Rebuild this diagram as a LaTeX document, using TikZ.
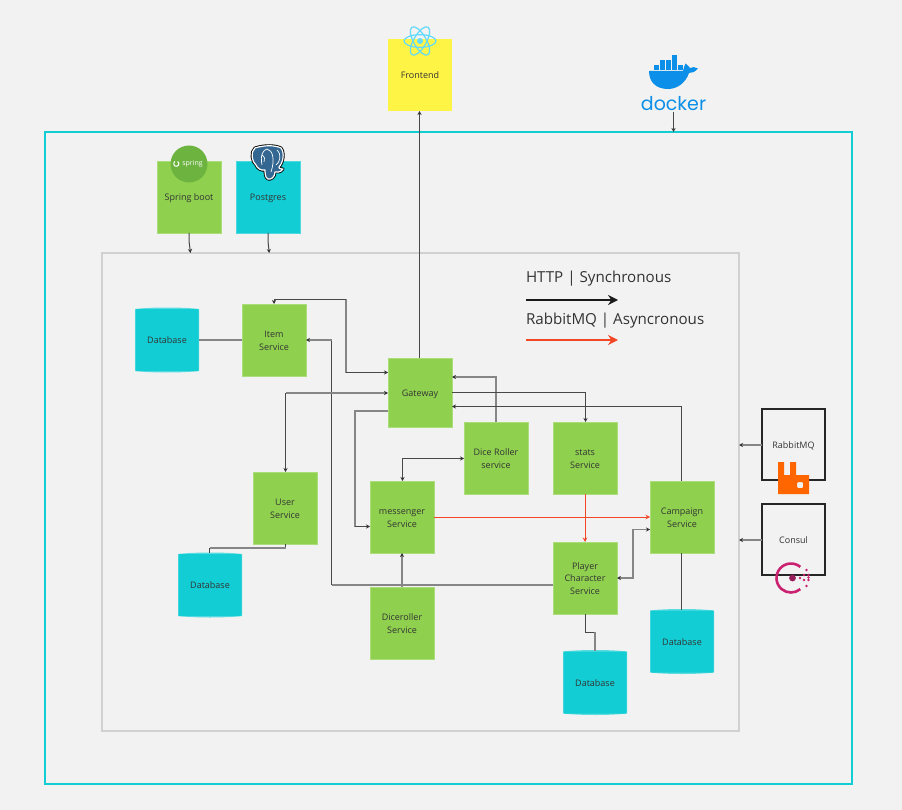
\documentclass[tikz,border=0pt]{standalone}
\usepackage{fontspec}
\setmainfont{Open Sans}
\newfontfamily\dockerfont{Poppins}
\usetikzlibrary{arrows.meta}
\definecolor{bg}{HTML}{F2F2F2}
\definecolor{mgreen}{HTML}{8FD14F}
\definecolor{mcyan}{HTML}{12CDD4}
\definecolor{myellow}{HTML}{FEF445}
\definecolor{ink}{HTML}{333333}
\definecolor{wire}{HTML}{484848}
\definecolor{wiregrey}{HTML}{868686}
\definecolor{mred}{HTML}{F24726}
\definecolor{dockblue}{HTML}{0B8FE8}
\definecolor{pgblue}{HTML}{336791}
\definecolor{rabbit}{HTML}{FF6600}
\definecolor{consul}{HTML}{CA2171}
\definecolor{consuld}{HTML}{961D59}
\definecolor{reactc}{HTML}{61DAFB}
\definecolor{springc}{HTML}{6DB33F}
\tikzset{
  every node/.style={inner sep=0pt,outer sep=0pt,text=ink,font=\fontsize{9}{12.3}\selectfont},
  boxbase/.style={rectangle,minimum width=64pt,minimum height=72pt},
  svcbox/.style={boxbase,fill=mgreen,draw=mgreen!75!white,line width=.5pt},
  stickbox/.style={boxbase,fill=mcyan,draw=mcyan!75!white,line width=.5pt},
  notebox/.style={boxbase,fill=myellow},
  toolbox/.style={rectangle,minimum width=63pt,minimum height=71pt,draw=black!85,line width=1.4pt},
  dbbox/.style={rectangle,minimum width=64pt,minimum height=64pt},
  wireline/.style={draw=wire,line width=1pt},
  wireb/.style={draw=wiregrey,line width=1.9pt},
  oneway/.style={-{Stealth[length=4pt,width=4pt,color=black!80]}},
  tailway/.style={{Stealth[length=4pt,width=4pt,color=black!80]}-},
  bothway/.style={{Stealth[length=4pt,width=4pt,color=black!80]}-{Stealth[length=4pt,width=4pt,color=black!80]}},
  redline/.style={draw=mred,line width=1pt,-{Stealth[length=4.5pt,width=4.5pt]}},
}
\newcommand{\tx}[1]{\raisebox{-1.5pt}[\height][\depth]{\begin{tabular}{@{}c@{}}#1\end{tabular}}}
\newcommand{\dbshape}[2]{%
  \fill[mcyan!70!white] (#1-32,#2-31) .. controls (#1-15,#2-33) and (#1+15,#2-33) .. (#1+32,#2-31)
    -- (#1+32,#2+31) .. controls (#1+15,#2+33) and (#1-15,#2+33) .. (#1-32,#2+31) -- cycle;
  \fill[mcyan,rounded corners=1pt] (#1-31.5,#2-31) rectangle (#1+31.5,#2+31);}
\begin{document}
\begin{tikzpicture}[x=1pt,y=-1pt]
\useasboundingbox (0,0) rectangle (902,810);
\fill[bg] (0,0) rectangle (902,810);
% frames
\node[rectangle,draw=mcyan,line width=2pt,minimum width=807pt,minimum height=652pt] (outer) at (448.5,458) {};
\node[rectangle,draw=black!18,line width=1.4pt,minimum width=637pt,minimum height=478pt] (inner) at (420.5,492) {};
% boxes
\node[notebox] (front) at (420,75) {\tx{Frontend}};
\node[svcbox] (spring) at (189,197) {\tx{Spring boot}};
\node[stickbox] (pg) at (268,197) {\tx{Postgres}};
\node[svcbox] (item) at (274,340) {\tx{Item\\Service}};
\node[svcbox,minimum height=69pt] (gw) at (420,392.5) {\tx{Gateway}};
\node[svcbox] (user) at (285,508) {\tx{User\\Service}};
\node[svcbox] (msg) at (402,517) {\tx{messenger\\Service}};
\node[svcbox] (dice) at (496,458) {\tx{Dice Roller\\service}};
\node[svcbox] (stats) at (585,458) {\tx{stats\\Service}};
\node[svcbox] (camp) at (682,517) {\tx{Campaign\\Service}};
\node[svcbox] (player) at (585,578) {\tx{Player\\Character\\Service}};
\node[svcbox] (roller) at (402,623) {\tx{Diceroller\\Service}};
\dbshape{167}{340}\node[dbbox] (dbitem) at (167,340) {\tx{Database}};
\dbshape{210}{585}\node[dbbox] (dbuser) at (210,585) {\tx{Database}};
\dbshape{595}{682.5}\node[dbbox] (dbplayer) at (595,682.5) {\tx{Database}};
\dbshape{682}{641.5}\node[dbbox] (dbcamp) at (682,641.5) {\tx{Database}};
\node[toolbox] (rmq) at (793.5,444.5) {\tx{RabbitMQ}};
\node[toolbox] (cons) at (793.5,539.5) {\tx{Consul}};
% legend
\coordinate (lg1a) at (526,300); \coordinate (lg1b) at (618,300);
\coordinate (lg2a) at (526,340); \coordinate (lg2b) at (618,340);
\node[anchor=west,font=\fontsize{15.15}{18}\selectfont] (lgt1) at (526,279) {HTTP | Synchronous};
\node[anchor=west,font=\fontsize{15.15}{18}\selectfont] (lgt2) at (526,321) {RabbitMQ | Asyncronous};
\draw[black!90,line width=2.6pt,-{Stealth[length=10pt,width=10pt]}] (lg1a) -- (lg1b);
\draw[mred,line width=2.6pt,-{Stealth[length=10pt,width=10pt]}] (lg2a) -- (lg2b);
% docker free end
\coordinate (dock) at (673.5,112);
% connectors
\draw[wireline,oneway] (419.5,0 |- gw.north) -- (419.5,0 |- front.south);
\draw[wireline,oneway] (dock) -- (outer.north -| dock);
\draw[wireline,oneway] (spring.south) -- ++(0,8) -- ++(1.5,12);
\draw[wireline,oneway] (pg.south) -- ++(0,8) -- ++(1.2,12);
\draw[wireb,oneway] (rmq.west |- 0,445) -- (inner.east |- 0,445);
\draw[wireb,oneway] (cons.west |- 0,540) -- (inner.east |- 0,540);
\draw[wireb] (dbitem.east) -- (item.west);
% Item <-> Gateway
\draw[wireb] (346,299.5) -- (346,372.5);
\draw[wireline,tailway] (item.north) -- (274,299.5) -- (346,299.5);
\draw[wireline,oneway] (346,372.5) -- (gw.west |- 0,372.5);
% Player -> Item
\draw[wireb] (player.west |- 0,585) -- (331.5,585);
\draw[wireline] (331.5,585) -- (331.5,340);
\draw[wireb,oneway] (331.5,340) -- (item.east);
% Gateway <-> User
\draw[wireb,tailway] (gw.west |- 0,393) -- (285.5,393);
\draw[wireline,oneway] (285.5,393) -- (285.5,0 |- user.north);
% Gateway -> messenger
\draw[wireb] (gw.west |- 0,411) -- (355,411) -- (355,526.5);
\draw[wireline,oneway] (355,526.5) -- (msg.west |- 0,526.5);
% Dice Roller -> Gateway
\draw[wireb,oneway] (dice.north) -- (496,377) -- (gw.east |- 0,377);
% Gateway -> stats
\draw[wireline,oneway] (gw.east |- 0,392.5) -- (585.5,392.5) -- (585.5,0 |- stats.north);
% Campaign -> Gateway
\draw[wireline,oneway] (681.5,0 |- camp.north) -- (681.5,406.5) -- (gw.east |- 0,406.5);
% messenger <-> Dice Roller
\draw[wireline,bothway] (402.5,0 |- msg.north) -- (402.5,458.5) -- (dice.west |- 0,458.5);
% async
\draw[redline] (stats.south) -- (player.north);
\draw[redline] (msg.east) -- (camp.west);
% Player <-> Campaign
\draw[wireb,bothway] (player.east) -- (633,578) -- (633,529.5) -- (camp.west |- 0,529.5);
% Diceroller -> messenger
\draw[wireb,oneway] (roller.north) -- (msg.south);
% databases
\draw[wireline] (585.5,0 |- player.south) -- (585.5,632) -- (595,632);
\draw[wireb] (595,632) -- (dbplayer.north);
\draw[wireline] (681.5,0 |- camp.south) -- (681.5,0 |- dbcamp.north);
\draw[wireline] (285.5,0 |- user.south) -- (285.5,548);
\draw[wireb] (285.5,548) -- (209.5,548);
\draw[wireline] (209.5,548) -- (209.5,0 |- dbuser.north);
% React logo
\begin{scope}[shift={(420,41)},line width=1.2pt]
\draw[reactc] (0,0) ellipse [x radius=16pt,y radius=6.3pt];
\draw[reactc,rotate=60] (0,0) ellipse [x radius=16pt,y radius=6.3pt];
\draw[reactc,rotate=120] (0,0) ellipse [x radius=16pt,y radius=6.3pt];
\fill[reactc] (0,0) circle (3pt);
\end{scope}
% Spring logo
\fill[springc] (189,164) circle (18.5pt);
\draw[white,line width=1pt] (177.6,161.5) arc (60:-240:2.6pt);
\node[text=white,font=\fontsize{7}{8}\selectfont] (springtxt) at (192.5,163.5) {spring};
% Postgres elephant
\def\elephant{(255,148) .. controls (264,145) and (275,145) .. (281,148)
 .. controls (285,153) and (283,163) .. (279,167) .. controls (278,169) and (283,169) .. (283,169)
 .. controls (280,173) and (277,172) .. (275,172) .. controls (275,177) and (271,180) .. (268,179)
 .. controls (265,178) and (265,172) .. (265,170) .. controls (261,171) and (257,168) .. (256,165)
 .. controls (252,162) and (250,152) .. (255,148) -- cycle}
\fill[black] \elephant; \draw[black,line width=3pt,line join=round] \elephant;
\draw[white,line width=1.2pt,fill=pgblue,line join=round] \elephant;
\draw[white,line width=.7pt] (267,149) .. controls (263,150) and (260,155) .. (262,165) (267,149) .. controls (273,150) and (275,160) .. (271,172) (262,155) .. controls (265,157) and (265,159) .. (264,162) (277,150) .. controls (282,155) and (280,162) .. (276,165);
% Docker logo
\begin{scope}[dockblue]
\fill (649,71) -- (683,71) .. controls (684,68) and (684,66) .. (685.5,63.5) .. controls (688,65) and (689,67) .. (690,68)
 .. controls (692,66.5) and (695,67) .. (698,68.5) .. controls (695,72) and (692,73) .. (689,73)
 .. controls (686,82) and (678,89) .. (668,89) .. controls (656,89) and (649,82) .. (649,71) -- cycle;
\foreach \cx/\cy in {672/55,659.5/60.5,666/60.5,672/60.5,653.5/65.5,659.5/65.5,666/65.5,672/65.5,678/65.5}
  \fill (\cx,\cy) rectangle ++(5,4.6);
\end{scope}
\node[text=dockblue,font=\dockerfont\fontsize{19}{20}\selectfont] (docktxt) at (673.5,103.5) {docker};
% RabbitMQ logo
\fill[rabbit,even odd rule] (778,462) -- (784,462) -- (784,475) -- (790,475) -- (790,462) -- (796,462) -- (796,475) -- (809,475) -- (809,494) -- (778,494) -- cycle
  [rounded corners=1pt] (797,482) rectangle (803,488);
% Consul logo
\draw[consul,line width=2.6pt] (800.3,566.9) arc (50:310:14.5pt);
\fill[consuld] (792.5,578) circle (3.4pt);
\foreach \dx/\dy in {806.5/570,800/578,804/575,808.5/575,804/580,808.5/580,808.5/577.5,806.5/586}
  \fill[consul] (\dx,\dy) circle (1.3pt);
\end{tikzpicture}
\end{document}
